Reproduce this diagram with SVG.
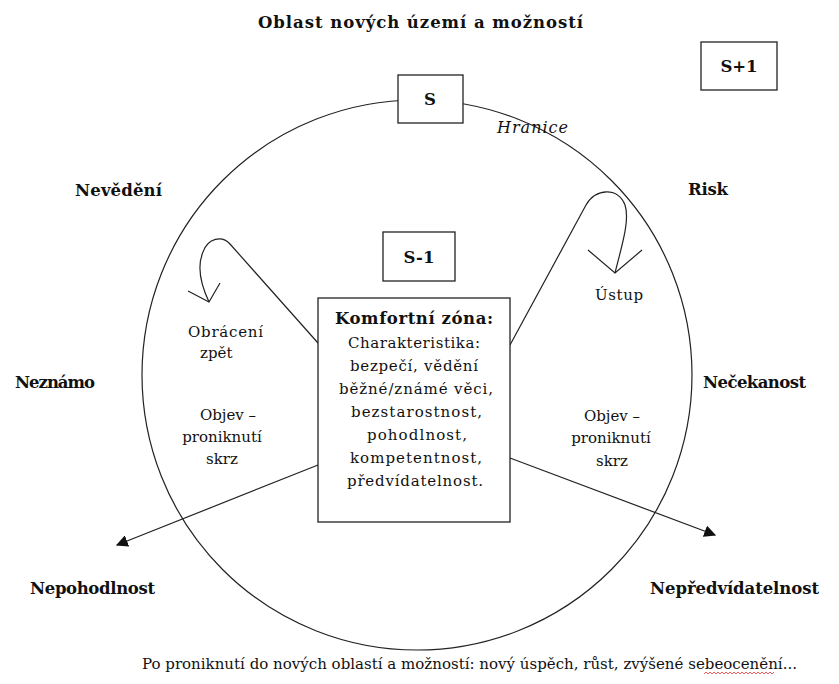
<svg xmlns="http://www.w3.org/2000/svg" width="839" height="684" viewBox="0 0 839 684">
<style>
.t{font-family:"DejaVu Serif","Liberation Serif",serif;fill:#111;font-size:15px}
.b{font-weight:bold;font-size:16.5px}
.c{text-anchor:middle}
.i{font-style:italic;font-size:16px}
.ln{fill:none;stroke:#222;stroke-width:1.2}
.box{fill:#fff;stroke:#222;stroke-width:1.3}
</style>
<defs>
<marker id="ah" viewBox="0 0 10 10" refX="9" refY="5" markerWidth="12" markerHeight="12" markerUnits="userSpaceOnUse" orient="auto">
<path d="M0,0 L10,5 L0,10 z" fill="#111"/>
</marker>
</defs>
<rect width="839" height="684" fill="#fff"/>
<g id="boundary">
<circle cx="417" cy="375" r="275" class="ln"/>
<text class="t i" x="497" y="133" textLength="71">Hranice</text>
</g>
<g id="connectors">
<path class="ln" d="M318,465 L117,545" marker-end="url(#ah)"/>
<path class="ln" d="M510,458 L715,535" marker-end="url(#ah)"/>
<path class="ln" d="M318,343 L230,244 C222,235 208,238 203,252 C197,266 201,285 209,302"/>
<path class="ln" d="M188,291 L209,302 L220,283"/>
<path class="ln" d="M510,345 L586,205 C596,188 618,187 625,205 C630,220 622,245 615,273"/>
<path class="ln" d="M588,250 L615,273 L642,250"/>
</g>
<g id="title"><text class="t b" x="258" y="28" font-size="17" textLength="325">Oblast nových území a možností</text></g>
<g id="s"><rect class="box" x="398" y="75" width="65" height="48"/><text class="t b c" x="430" y="105">S</text></g>
<g id="s-plus-1"><rect class="box" x="701" y="42" width="76" height="48"/><text class="t b c" x="739" y="72">S+1</text></g>
<g id="s-minus-1"><rect class="box" x="383" y="232" width="72" height="49"/><text class="t b c" x="419" y="263">S-1</text></g>
<g id="comfort">
<rect class="box" x="318" y="298" width="192" height="224"/>
<text class="t b" x="335" y="324" textLength="158">Komfortní zóna:</text>
<text class="t" x="348" y="348" textLength="132">Charakteristika:</text>
<text class="t" x="350" y="371" textLength="128">bezpečí, vědění</text>
<text class="t" x="339" y="394" textLength="154">běžné/známé věci,</text>
<text class="t" x="351" y="417" textLength="131">bezstarostnost,</text>
<text class="t" x="367" y="440" textLength="100">pohodlnost,</text>
<text class="t" x="350" y="463" textLength="132">kompetentnost,</text>
<text class="t" x="347" y="486" textLength="136">předvídatelnost.</text>
</g>
<g id="nevedeni"><text class="t b" x="75" y="196" textLength="87">Nevědění</text></g>
<g id="risk"><text class="t b" x="688" y="195" textLength="40">Risk</text></g>
<g id="neznamo"><text class="t b" x="15" y="388" textLength="80">Neznámo</text></g>
<g id="necekanost"><text class="t b" x="703" y="388" textLength="103">Nečekanost</text></g>
<g id="nepohodlnost"><text class="t b" x="30" y="594" textLength="125">Nepohodlnost</text></g>
<g id="nepredvidatelnost"><text class="t b" x="650" y="594" textLength="169">Nepředvídatelnost</text></g>
<g id="obraceni"><text class="t" x="188" y="337" textLength="75">Obrácení</text><text class="t" x="200" y="358">zpět</text></g>
<g id="ustup"><text class="t" x="595" y="300" textLength="48">Ústup</text></g>
<g id="objev-left"><text class="t c" x="228" y="420">Objev –</text><text class="t c" x="222" y="442" font-size="14.5">proniknutí</text><text class="t c" x="222" y="464">skrz</text></g>
<g id="objev-right"><text class="t c" x="612" y="421">Objev –</text><text class="t c" x="611" y="443" font-size="14.5">proniknutí</text><text class="t c" x="612" y="466">skrz</text></g>
<g id="footer">
<text class="t" x="142" y="669" textLength="655">Po proniknutí do nových oblastí a možností: nový úspěch, růst, zvýšené sebeocenění...</text>
<path d="M704,674 l2,-2 l2,2 l2,-2 l2,2 l2,-2 l2,2 l2,-2 l2,2 l2,-2 l2,2 l2,-2 l2,2 l2,-2 l2,2 l2,-2 l2,2 l2,-2 l2,2 l2,-2 l2,2 l2,-2 l2,2 l2,-2 l2,2 l2,-2 l2,2 l2,-2 l2,2 l2,-2 l2,2 l2,-2 l2,2 l2,-2 l2,2 l2,-2" fill="none" stroke="#e33" stroke-width="0.8"/>
</g>
</svg>
